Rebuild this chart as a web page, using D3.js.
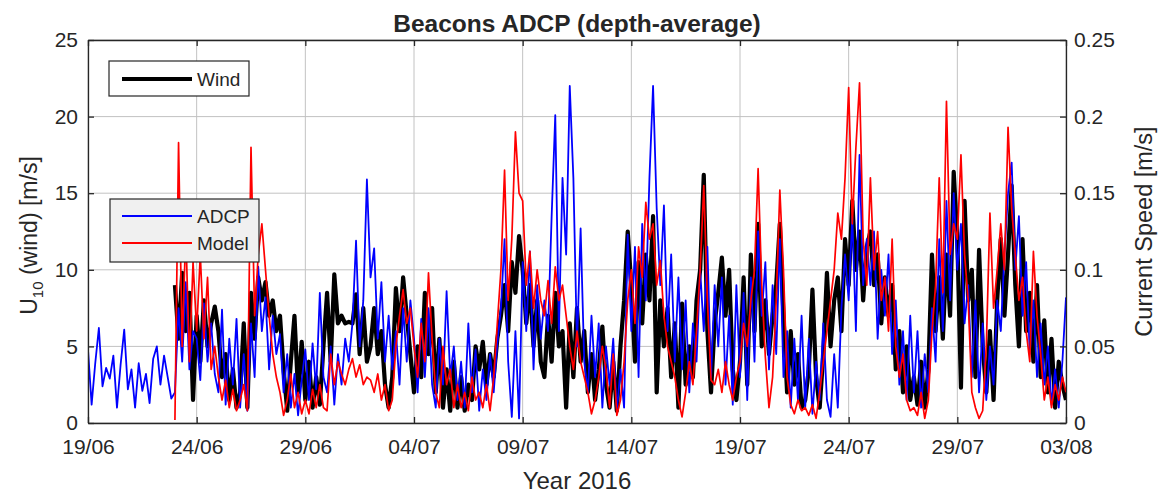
<!DOCTYPE html>
<html>
<head>
<meta charset="utf-8">
<script src="https://cdn.jsdelivr.net/npm/d3@7"></script>
<style>
  body { margin: 0; background: #fff; }
  svg text { font-family: "Liberation Sans", Arial, sans-serif; fill: #262626; }
</style>
</head>
<body>
<div id="chart"></div>
<script>
// x axis tick labels (dd/mm, year 2016)
var xTickLabels = ["19/06", "24/06", "29/06", "04/07", "09/07", "14/07", "19/07", "24/07", "29/07", "03/08"];
var leftTicks = [0, 5, 10, 15, 20, 25];
var rightTicks = [0, 0.05, 0.1, 0.15, 0.2, 0.25];

// samples every 4 hours
var stepHours = 4;
var adcpStart = "19/06";
var windStart = "23/06";
var modelStart = "23/06";

// U10 wind speed [m/s]
var windSpeed = [
  9.0, 5.5, 9.8, 6.0, 8.5, 1.5,
  7.0, 4.0, 8.0, 5.0, 6.5, 7.6,
  6.0, 3.0, 4.5, 1.5, 3.5, 1.0,
  2.0, 6.5, 1.0, 8.5, 5.5, 9.5,
  8.0, 9.2, 7.0, 8.0, 6.0, 7.0,
  3.5, 0.8, 4.0, 7.0, 2.0, 5.3,
  1.5, 4.0, 1.0, 3.0, 1.2, 5.0,
  8.5, 4.0, 9.7, 6.5, 7.0, 6.5,
  6.6, 6.5, 8.4, 4.5, 7.5, 4.0,
  5.0, 7.5, 4.5, 6.0, 2.5, 1.0,
  3.0, 8.8, 6.0, 9.5, 7.0, 4.5,
  2.0, 5.0, 3.0, 8.5, 4.5, 7.5,
  2.0, 5.5, 1.0, 3.5, 0.8, 4.0,
  1.0, 3.0, 0.8, 2.5, 1.5, 5.0,
  3.5, 5.3, 2.5, 4.5, 3.0, 5.5,
  7.0, 9.0, 6.0, 10.5, 8.5, 12.2,
  10.0, 6.5, 9.0, 5.0, 8.0, 4.0,
  3.0, 7.0, 4.0, 8.5, 5.0, 6.0,
  1.0, 6.5, 3.0, 7.5, 4.0, 6.0,
  2.0, 4.5, 1.5, 3.5, 6.3, 2.5,
  1.0, 4.0, 0.8, 5.0, 8.0, 12.5,
  9.0, 4.0, 10.5, 6.5, 11.0, 8.0,
  13.5, 2.0, 8.0, 5.0, 7.5, 3.0,
  6.5, 1.0, 7.8, 2.5, 5.0, 3.0,
  8.0, 10.0, 16.2, 6.0, 2.0, 6.5,
  8.5, 10.8, 7.0, 10.0, 3.5, 1.5,
  4.0, 9.5, 2.5, 11.0, 6.0, 13.0,
  5.0, 8.0, 4.5, 7.0, 9.0, 13.0,
  7.0, 2.0, 6.0, 2.5, 4.5, 1.0,
  1.5, 3.5, 8.7, 3.0, 1.0, 4.5,
  9.8, 5.0, 8.0, 9.5, 6.0, 12.0,
  9.0, 14.5, 10.0, 12.5, 8.0, 11.5,
  12.5, 9.0, 11.0, 6.5, 9.5, 7.0,
  9.0, 3.5, 6.0, 2.0, 5.0, 1.5,
  3.0, 1.2, 4.0, 1.0, 3.5, 11.0,
  6.0, 9.5, 5.5, 11.0, 7.0, 16.4,
  12.0, 2.3, 14.5, 8.0, 10.0, 3.0,
  11.3, 5.0, 2.0, 6.0, 1.5, 8.0,
  12.0, 7.0, 11.0, 15.5, 9.0, 5.0,
  12.0, 6.0, 8.5, 4.0, 9.0, 3.0,
  6.7, 2.0, 5.5, 1.0, 4.0, 2.5,
  1.5
];

// ADCP depth-averaged current speed [m/s]
var adcpSpeed = [
  0.048, 0.012, 0.039, 0.062, 0.024, 0.036,
  0.029, 0.044, 0.010, 0.038, 0.061, 0.022,
  0.035, 0.010, 0.039, 0.021, 0.032, 0.013,
  0.042, 0.050, 0.025, 0.044, 0.030, 0.016,
  0.020, 0.075, 0.040, 0.092, 0.035, 0.060,
  0.055, 0.028, 0.078, 0.040, 0.065, 0.032,
  0.020, 0.074, 0.012, 0.055, 0.025, 0.068,
  0.010, 0.045, 0.008, 0.065, 0.030, 0.102,
  0.060, 0.082, 0.035, 0.070, 0.045, 0.058,
  0.020, 0.045, 0.010, 0.032, 0.005, 0.028,
  0.048, 0.015, 0.052, 0.022, 0.085, 0.030,
  0.020, 0.050, 0.012, 0.045, 0.025, 0.055,
  0.040, 0.065, 0.119, 0.050, 0.080, 0.159,
  0.095, 0.114, 0.055, 0.092, 0.040, 0.070,
  0.035, 0.060, 0.025, 0.075, 0.040, 0.080,
  0.055, 0.020, 0.068, 0.030, 0.075, 0.025,
  0.010, 0.055, 0.025, 0.086, 0.030, 0.050,
  0.015, 0.040, 0.010, 0.065, 0.020, 0.048,
  0.008, 0.035, 0.015, 0.045, 0.020, 0.052,
  0.075, 0.120, 0.040, 0.004, 0.060, 0.003,
  0.105, 0.060, 0.112, 0.035, 0.090, 0.055,
  0.080, 0.060, 0.135, 0.201, 0.060, 0.160,
  0.110, 0.220, 0.160, 0.050, 0.127, 0.040,
  0.020, 0.070, 0.030, 0.065, 0.010, 0.050,
  0.025, 0.055, 0.008, 0.035, 0.010, 0.123,
  0.060, 0.115, 0.030, 0.130, 0.080, 0.160,
  0.220, 0.140, 0.090, 0.142, 0.060, 0.110,
  0.040, 0.095, 0.035, 0.080, 0.020, 0.065,
  0.040, 0.100, 0.060, 0.115, 0.030, 0.090,
  0.050, 0.095, 0.025, 0.070, 0.012, 0.090,
  0.030, 0.085, 0.015, 0.095, 0.040, 0.125,
  0.070, 0.105, 0.035, 0.090, 0.045, 0.120,
  0.030, 0.060, 0.010, 0.055, 0.015, 0.070,
  0.010, 0.055, 0.006, 0.040, 0.015, 0.065,
  0.015, 0.004, 0.045, 0.010, 0.075, 0.110,
  0.080, 0.135, 0.060, 0.175, 0.090, 0.120,
  0.090, 0.125, 0.055, 0.100, 0.070, 0.110,
  0.045, 0.080, 0.025, 0.060, 0.015, 0.070,
  0.020, 0.060, 0.010, 0.045, 0.020, 0.075,
  0.040, 0.120, 0.060, 0.145, 0.080, 0.150,
  0.100, 0.130, 0.065, 0.090, 0.030, 0.080,
  0.020, 0.065, 0.015, 0.050, 0.025, 0.080,
  0.060, 0.110, 0.150, 0.170, 0.100, 0.135,
  0.070, 0.105, 0.045, 0.080, 0.030, 0.065,
  0.025, 0.050, 0.012, 0.035, 0.010, 0.040,
  0.082
];

// model depth-averaged current speed [m/s]
var modelSpeed = [
  0.002, 0.183, 0.050, 0.125, 0.040, 0.105,
  0.060, 0.110, 0.055, 0.095, 0.035, 0.050,
  0.030, 0.015, 0.028, 0.010, 0.022, 0.008,
  0.015, 0.025, 0.008, 0.180, 0.070, 0.110,
  0.130, 0.100, 0.070, 0.045, 0.030, 0.020,
  0.005, 0.015, 0.032, 0.010, 0.020, 0.006,
  0.015, 0.006, 0.022, 0.010, 0.025, 0.010,
  0.008, 0.045, 0.025, 0.040, 0.032, 0.025,
  0.035, 0.042, 0.030, 0.038, 0.025, 0.030,
  0.028, 0.020, 0.032, 0.015, 0.025, 0.008,
  0.015, 0.050, 0.070, 0.087, 0.065, 0.075,
  0.050, 0.030, 0.065, 0.040, 0.098, 0.055,
  0.020, 0.010, 0.050, 0.025, 0.035, 0.010,
  0.025, 0.010, 0.020, 0.008, 0.030, 0.015,
  0.020, 0.010, 0.025, 0.008, 0.030, 0.065,
  0.100, 0.165, 0.080, 0.120, 0.190, 0.150,
  0.145, 0.090, 0.112, 0.075, 0.100, 0.080,
  0.070, 0.093, 0.065, 0.102, 0.080, 0.090,
  0.070, 0.050, 0.035, 0.060, 0.040, 0.030,
  0.020, 0.006, 0.015, 0.030, 0.050, 0.035,
  0.010, 0.045, 0.005, 0.015, 0.040, 0.080,
  0.100, 0.065, 0.115, 0.095, 0.144, 0.120,
  0.130, 0.090, 0.106, 0.070, 0.050, 0.040,
  0.030, 0.015, 0.004, 0.020, 0.040, 0.025,
  0.060, 0.100, 0.155, 0.080, 0.028, 0.025,
  0.035, 0.020, 0.040, 0.025, 0.015, 0.030,
  0.040, 0.065, 0.050, 0.080, 0.100, 0.166,
  0.090, 0.043, 0.010, 0.030, 0.080, 0.152,
  0.100, 0.030, 0.012, 0.006, 0.015, 0.008,
  0.010, 0.005, 0.012, 0.003, 0.020, 0.040,
  0.060, 0.080, 0.100, 0.137, 0.120, 0.160,
  0.219, 0.130, 0.180, 0.222, 0.120, 0.090,
  0.160, 0.100, 0.125, 0.080, 0.095, 0.060,
  0.120, 0.050, 0.030, 0.045, 0.015, 0.008,
  0.010, 0.005, 0.020, 0.003, 0.015, 0.060,
  0.090, 0.160, 0.085, 0.210, 0.110, 0.130,
  0.120, 0.175, 0.110, 0.080, 0.020, 0.010,
  0.003, 0.008, 0.050, 0.137, 0.075, 0.100,
  0.130, 0.100, 0.193, 0.140, 0.110, 0.080,
  0.095, 0.060, 0.040, 0.112, 0.070, 0.045,
  0.015, 0.030, 0.010, 0.025, 0.015, 0.030,
  0.020
];

var width = 1158, height = 494;
var margin = {top: 40, right: 92, bottom: 71, left: 88};
var innerW = width - margin.left - margin.right;
var innerH = height - margin.top - margin.bottom;

var parseDay = function(s) { return d3.utcParse("%d/%m/%Y")(s + "/2016"); };
var tickDates = xTickLabels.map(parseDay);

function toSeries(values, start) {
  var t0 = parseDay(start);
  return values.map(function(v, i) {
    return {date: d3.utcHour.offset(t0, i * stepHours), value: v};
  });
}

var svg = d3.select("#chart").append("svg")
    .attr("width", width)
    .attr("height", height);

var g = svg.append("g")
    .attr("transform", "translate(" + margin.left + "," + margin.top + ")");

var x = d3.scaleUtc()
    .domain([tickDates[0], tickDates[tickDates.length - 1]])
    .range([0, innerW]);
var yLeft = d3.scaleLinear().domain([0, 25]).range([innerH, 0]);
var yRight = d3.scaleLinear().domain([0, 0.25]).range([innerH, 0]);

// grid
g.append("g").attr("class", "grid")
  .selectAll("line.v").data(tickDates).enter().append("line")
    .attr("x1", function(d) { return x(d); })
    .attr("x2", function(d) { return x(d); })
    .attr("y1", 0).attr("y2", innerH)
    .attr("stroke", "#c2c2c2").attr("stroke-width", 1);
g.append("g").attr("class", "grid")
  .selectAll("line.h").data(leftTicks).enter().append("line")
    .attr("x1", 0).attr("x2", innerW)
    .attr("y1", function(d) { return yLeft(d); })
    .attr("y2", function(d) { return yLeft(d); })
    .attr("stroke", "#c2c2c2").attr("stroke-width", 1);

// data
g.append("clipPath").attr("id", "clip")
  .append("rect").attr("width", innerW).attr("height", innerH);

var plot = g.append("g").attr("clip-path", "url(#clip)");

var windLine = d3.line()
    .x(function(d) { return x(d.date); })
    .y(function(d) { return yLeft(d.value); });
var currentLine = d3.line()
    .x(function(d) { return x(d.date); })
    .y(function(d) { return yRight(d.value); });

plot.append("path")
    .datum(toSeries(windSpeed, windStart))
    .attr("fill", "none").attr("stroke", "#000")
    .attr("stroke-width", 4.2).attr("stroke-linejoin", "round")
    .attr("d", windLine);

plot.append("path")
    .datum(toSeries(adcpSpeed, adcpStart))
    .attr("fill", "none").attr("stroke", "#0000ff")
    .attr("stroke-width", 1.8).attr("stroke-linejoin", "round")
    .attr("d", currentLine);

plot.append("path")
    .datum(toSeries(modelSpeed, modelStart))
    .attr("fill", "none").attr("stroke", "#ff0000")
    .attr("stroke-width", 1.7).attr("stroke-linejoin", "round")
    .attr("d", currentLine);

// axes (MATLAB style, ticks inside)
var tickFont = "21px";

var xAxis = g.append("g")
    .attr("transform", "translate(0," + innerH + ")")
    .call(d3.axisBottom(x).tickValues(tickDates)
      .tickFormat(d3.utcFormat("%d/%m")).tickSizeInner(-6).tickSizeOuter(0).tickPadding(16));
var xTop = g.append("g")
    .call(d3.axisTop(x).tickValues(tickDates)
      .tickFormat("").tickSizeInner(-6).tickSizeOuter(0));
var yAxisL = g.append("g")
    .call(d3.axisLeft(yLeft).tickValues(leftTicks)
      .tickSizeInner(-6).tickSizeOuter(0).tickPadding(10));
var yAxisR = g.append("g")
    .attr("transform", "translate(" + innerW + ",0)")
    .call(d3.axisRight(yRight).tickValues(rightTicks)
      .tickFormat(function(d) { return d === 0 ? "0" : String(d); })
      .tickSizeInner(-6).tickSizeOuter(0).tickPadding(8));

[xAxis, xTop, yAxisL, yAxisR].forEach(function(a) {
  a.select(".domain").attr("stroke", "#262626").attr("stroke-width", 1.3);
  a.selectAll(".tick line").attr("stroke", "#262626").attr("stroke-width", 1.3);
  a.selectAll(".tick text").attr("font-size", tickFont)
    .attr("font-family", "Liberation Sans, Arial, sans-serif").attr("fill", "#262626");
});

// title and labels
svg.append("text")
    .attr("x", margin.left + innerW / 2).attr("y", 32)
    .attr("text-anchor", "middle")
    .attr("font-size", "24.5px").attr("font-weight", "bold")
    .text("Beacons ADCP (depth-average)");

svg.append("text")
    .attr("x", margin.left + innerW / 2).attr("y", 489)
    .attr("text-anchor", "middle")
    .attr("font-size", "24px")
    .text("Year 2016");

var leftLabel = svg.append("text")
    .attr("transform", "translate(37," + (margin.top + innerH / 2 + 4) + ") rotate(-90)")
    .attr("text-anchor", "middle")
    .attr("font-size", "23px");
leftLabel.append("tspan").text("U");
leftLabel.append("tspan").attr("font-size", "15px").attr("dy", 6).text("10");
leftLabel.append("tspan").attr("dy", -6).text(" (wind) [m/s]");

svg.append("text")
    .attr("transform", "translate(1152," + (margin.top + innerH / 2) + ") rotate(-90)")
    .attr("text-anchor", "middle")
    .attr("font-size", "23.5px")
    .text("Current Speed [m/s]");

// legends
var leg1 = svg.append("g").attr("transform", "translate(109,61)");
leg1.append("rect").attr("width", 140).attr("height", 35)
    .attr("fill", "#fff").attr("stroke", "#262626").attr("stroke-width", 1.2);
leg1.append("line").attr("x1", 13).attr("x2", 83).attr("y1", 18).attr("y2", 18)
    .attr("stroke", "#000").attr("stroke-width", 4.2);
leg1.append("text").attr("x", 88).attr("y", 25).attr("font-size", "19px").text("Wind");

var leg2Items = [{name: "ADCP", color: "#0000ff"}, {name: "Model", color: "#ff0000"}];
var leg2 = svg.append("g").attr("transform", "translate(110,199)");
leg2.append("rect").attr("width", 149).attr("height", 63)
    .attr("fill", "#f0f0f0").attr("stroke", "#262626").attr("stroke-width", 1.2);
var rows = leg2.selectAll("g.row").data(leg2Items).enter().append("g")
    .attr("transform", function(d, i) { return "translate(0," + (17 + i * 27) + ")"; });
rows.append("line").attr("x1", 12).attr("x2", 82).attr("y1", 0).attr("y2", 0)
    .attr("stroke", function(d) { return d.color; }).attr("stroke-width", 1.8);
rows.append("text").attr("x", 87).attr("y", 7).attr("font-size", "19px")
    .text(function(d) { return d.name; });
</script>
</body>
</html>
